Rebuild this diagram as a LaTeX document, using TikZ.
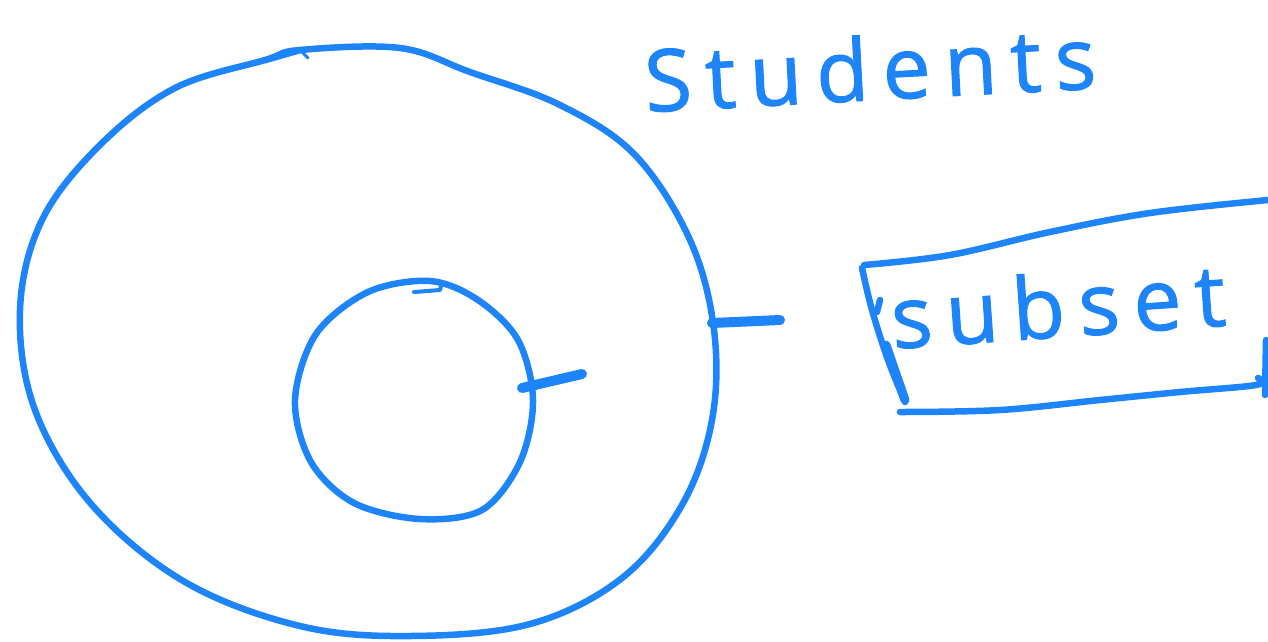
\documentclass[tikz,border=0pt]{standalone}
\usepackage{fontspec}
\setmainfont{Open Sans}
\definecolor{pen}{RGB}{30,132,250}
\begin{document}
\begin{tikzpicture}[x=1pt,y=-1pt,
  ink/.style={draw=pen,line width=6.5pt,line cap=round,line join=round},
  tick/.style={draw=pen,line width=10pt,line cap=round},
  hand/.style={text=pen,inner sep=0pt,font=\fontsize{86}{86}\selectfont\addfontfeatures{LetterSpace=16,FakeBold=1.2}}]
\useasboundingbox (0,0) rectangle (1268,641);
% big circle
\draw[ink] plot[smooth cycle,tension=0.6] coordinates {
 (300,50) (400,48) (470,72) (560,105) (635,155) (690,240) (714,330) (712,420)
 (682,505) (622,578) (530,624) (410,636) (300,626) (185,582) (92,505)
 (35,410) (20,310) (42,220) (100,145) (175,88) (265,60)};
\draw[ink,line width=3pt] (265,62) -- (300,52) (300,50) -- (308,58);
% small circle
\draw[ink] plot[smooth cycle,tension=0.55] coordinates {
 (533,400) (518,340) (478,300) (430,281) (368,292) (316,334) (295,400)
 (311,462) (354,503) (420,519) (482,510) (520,462)};
\draw[ink,line width=4pt] (414,292) -- (440,290) -- (442,282);
% ticks
\coordinate (bigE) at (712,323);
\coordinate (bigT) at (780,320);
\coordinate (smE) at (522,388);
\coordinate (smT) at (582,374);
\draw[tick] (bigE) -- (bigT);
\draw[tick] (smE) -- (smT);
% box
\draw[ink] plot[smooth,tension=0.6] coordinates {(864,265) (950,255) (1050,232) (1150,213) (1268,200)};
\draw[ink] plot[smooth,tension=0.6] coordinates {(862,268) (872,310) (888,360) (905,402)};
\draw[ink,line width=9pt,line cap=round] (886,345) -- (905,400);
\draw[ink] (880,300) -- (877,312);
\draw[ink] plot[smooth,tension=0.6] coordinates {(900,412) (1000,410) (1100,400) (1180,392) (1256,385) (1258,378)};
\draw[ink] (1266,340) -- (1265,395);
% texts
\node[hand,rotate=3] (students) at (870,68) {Students};
\node[hand,rotate=4] (subset) at (1058,305) {subset};
\end{tikzpicture}
\end{document}
